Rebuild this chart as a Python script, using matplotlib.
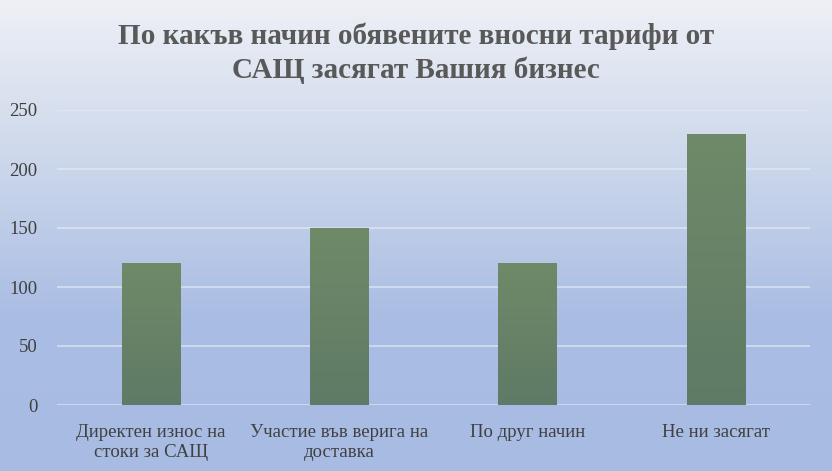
import matplotlib.pyplot as plt
import numpy as np
from matplotlib.colors import LinearSegmentedColormap

plt.rcParams['font.family'] = ['Liberation Serif', 'DejaVu Serif']

categories = ['Директен износ на\nстоки за САЩ', 'Участие във верига на\nдоставка',
              'По друг начин', 'Не ни засягат']
values = [120, 150, 120, 230]
title = 'По какъв начин обявените вносни тарифи от\nСАЩ засягат Вашия бизнес'

fig = plt.figure(figsize=(8.32, 4.71), dpi=100)

# background gradient (light grey-blue at top -> blue at bottom)
bg = fig.add_axes([0, 0, 1, 1], zorder=0)
bg_cmap = LinearSegmentedColormap.from_list('bg', ['#eef0f6', '#cdd8eb', '#aabde3', '#a8bce4'])
grad = np.linspace(0, 1, 256).reshape(-1, 1)
bg.imshow(grad, aspect='auto', cmap=bg_cmap, extent=[0, 1, 0, 1], origin='upper')
bg.set_axis_off()

ax = fig.add_axes([57 / 832, 1 - 405 / 471, 753 / 832, 295 / 471], zorder=1)
ax.patch.set_alpha(0)

x = np.arange(len(categories))
bars = ax.bar(x, values, width=0.31, color='#668066', zorder=3)

# slight vertical gradient in each bar
bar_cmap = LinearSegmentedColormap.from_list('bar', ['#6f8a68', '#5f7a66'])
for b in bars:
    bx, by, bw, bh = b.get_x(), b.get_y(), b.get_width(), b.get_height()
    im = ax.imshow(grad, aspect='auto', cmap=bar_cmap, extent=[bx, bx + bw, by, by + bh],
                   origin='upper', zorder=3.5)
    im.set_clip_path(b)

ax.set_xlim(-0.5, len(categories) - 0.5)
ax.set_ylim(0, 250)
ax.set_yticks(np.arange(0, 251, 50))
ax.yaxis.grid(True, color='#e4e9f3', linewidth=1.2, alpha=0.75, zorder=1)
ax.set_axisbelow(True)
ax.tick_params(axis='both', length=0, colors='#404040', labelsize=13.5)
ax.tick_params(axis='y', pad=14)
ax.tick_params(axis='x', pad=14)
ax.set_xticks(x)
ax.set_xticklabels(categories, linespacing=1.2)
for s in ax.spines.values():
    s.set_visible(False)

fig.text(0.5, 0.887, title, ha='center', va='center', fontsize=21, fontweight='bold',
         color='#595959', linespacing=1.3, family=['Liberation Serif', 'DejaVu Serif'])

plt.savefig('out.png', dpi=100)
